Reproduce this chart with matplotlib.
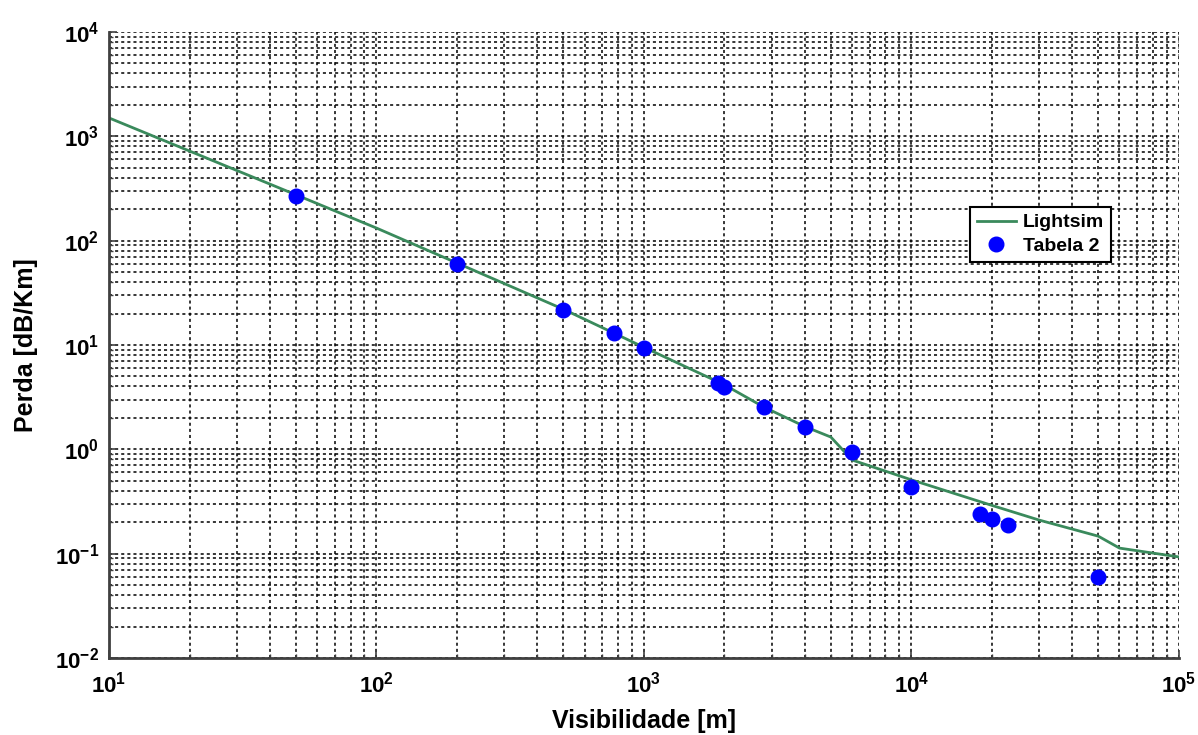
import matplotlib
matplotlib.use("Agg")
import matplotlib.pyplot as plt

plt.rcParams['font.family'] = ['Liberation Sans', 'DejaVu Sans']
plt.rcParams['font.weight'] = 'bold'
plt.rcParams['mathtext.fontset'] = 'custom'
plt.rcParams['mathtext.rm'] = 'Liberation Sans:bold'
plt.rcParams['mathtext.bf'] = 'Liberation Sans:bold'

# Lightsim curve (visibility in m, loss in dB/km)
vis_line = [10, 50, 100, 200, 500, 1000, 2000, 2800, 4000, 5000, 6000,
            10000, 20000, 30000, 50000, 60000, 100000]
loss_line = [1500, 275, 132, 61, 22, 9.5, 4.15, 2.55, 1.65, 1.31, 0.79,
             0.51, 0.29, 0.21, 0.147, 0.113, 0.093]

# Tabela 2 points
vis_pts = [50, 200, 500, 770, 1000, 1900, 2000, 2800, 4000, 6000,
           10000, 18000, 20000, 23000, 50000]
loss_pts = [270, 60, 21.5, 13, 9.3, 4.3, 3.95, 2.55, 1.63, 0.95,
            0.44, 0.24, 0.215, 0.188, 0.06]

fig = plt.figure(figsize=(11.98, 7.35), dpi=100)
ax = fig.add_axes([0.091, 0.1048, 0.893, 0.8517])

ax.loglog(vis_line, loss_line, color='#3a8a5c', lw=2.0, label='Lightsim')
ax.loglog(vis_pts, loss_pts, 'o', color='#0000ff', ms=10.5, label='Tabela 2')

ax.set_xlim(10, 1e5)
ax.set_ylim(1e-2, 1e4)
ax.set_axisbelow(True)
ax.grid(True, which='both', color='black', linestyle=(0, (2.0, 2.0)), lw=1.1)

for s in ['top', 'right']:
    ax.spines[s].set_visible(False)
for s in ['left', 'bottom']:
    ax.spines[s].set_color('#404040')
    ax.spines[s].set_linewidth(2)

ax.tick_params(which='both', direction='in', colors='#404040', labelcolor='black')
ax.tick_params(which='major', length=6, width=1.2, labelsize=16, pad=7)
ax.tick_params(axis='x', which='major', pad=10)
ax.tick_params(which='minor', length=3, width=1)

ax.set_xlabel('Visibilidade [m]', fontsize=18, fontweight='bold')
ax.xaxis.set_label_coords(0.5, -0.0815)
ax.set_ylabel('Perda [dB/Km]', fontsize=18, fontweight='bold', labelpad=12)

leg = ax.legend(loc='upper right', bbox_to_anchor=(0.9364, 0.7204),
                borderaxespad=0, fancybox=False, framealpha=1,
                edgecolor='black', fontsize=14, handlelength=2.0,
                handletextpad=0.35, borderpad=0.35, labelspacing=0.3)
leg.get_frame().set_linewidth(1.5)

fig.savefig('out.png', dpi=100)
